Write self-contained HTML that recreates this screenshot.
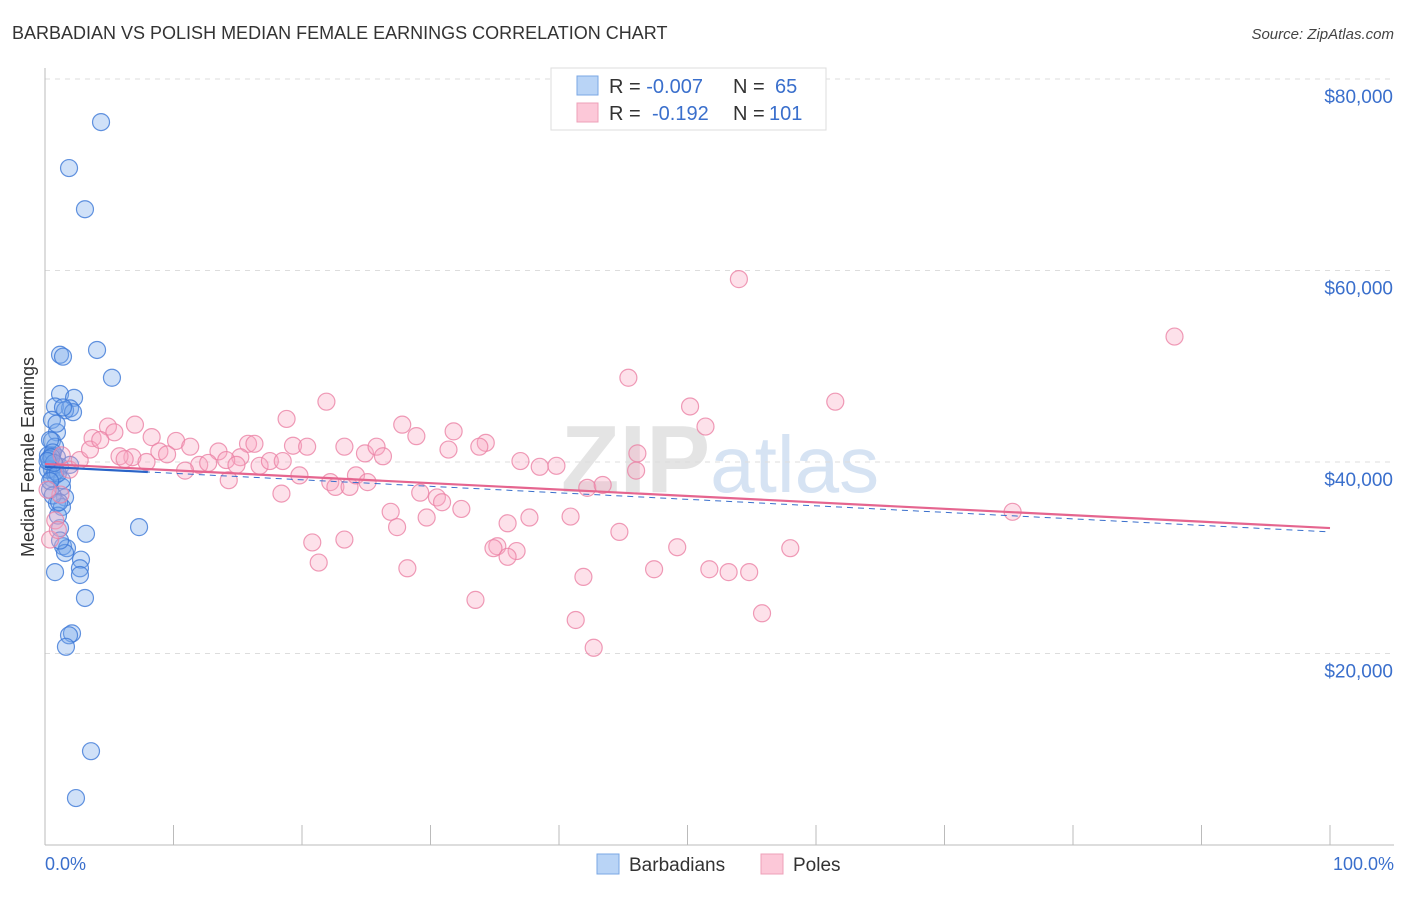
<!DOCTYPE html>
<html><head><meta charset="utf-8"><style>
body{margin:0;background:#fff;font-family:"Liberation Sans",sans-serif}
svg text{font-family:"Liberation Sans",sans-serif}
</style></head><body>
<svg id="chart" width="1406" height="892" viewBox="0 0 1406 892" xmlns="http://www.w3.org/2000/svg">
<text x="12" y="39" font-size="18" fill="#333">BARBADIAN VS POLISH MEDIAN FEMALE EARNINGS CORRELATION CHART</text>
<text x="1394" y="39" font-size="15" fill="#444" text-anchor="end" font-style="italic">Source: ZipAtlas.com</text>
<text x="720" y="492" font-size="96" fill="#e4e4e4" text-anchor="middle" font-family="Liberation Serif" font-weight="bold">ZIP<tspan fill="#d6e3f3" font-family="Liberation Sans" font-weight="normal" font-size="80">atlas</tspan></text>
<g id="grid"></g>
<g id="axes"></g>
<g id="pts"></g>
<g id="trends"></g>
<text transform="translate(34,457) rotate(-90)" font-size="18" fill="#333" text-anchor="middle">Median Female Earnings</text>
<text x="45" y="870" font-size="18" fill="#3a6fcc">0.0%</text>
<text x="1394" y="870" font-size="18" fill="#3a6fcc" text-anchor="end">100.0%</text>
<g>
<rect x="551" y="68" width="275" height="62" fill="#fff" stroke="#ddd"/>
<rect x="577" y="76" width="21" height="19" fill="#b9d4f6" stroke="#7aa7e4"/>
<rect x="577" y="103" width="21" height="19" fill="#fcc8d8" stroke="#eea0b8"/>
<text x="609" y="93" font-size="20" fill="#333">R = <tspan fill="#3a6fcc">-0.007</tspan><tspan x="733">N = </tspan><tspan x="775" fill="#3a6fcc">65</tspan></text>
<text x="609" y="120" font-size="20" fill="#333">R = <tspan x="652" fill="#3a6fcc">-0.192</tspan><tspan x="733">N = </tspan><tspan x="769" fill="#3a6fcc">101</tspan></text>
</g>
<g>
<rect x="597" y="854" width="22" height="20" fill="#b9d4f6" stroke="#7aa7e4"/>
<text x="629" y="871" font-size="19" fill="#333">Barbadians</text>
<rect x="761" y="854" width="22" height="20" fill="#fcc8d8" stroke="#eea0b8"/>
<text x="793" y="871" font-size="19" fill="#333">Poles</text>
</g>
</svg>
<script>
const yTicks=[20000,40000,60000,80000];
const yTickLabels=["$20,000","$40,000","$60,000","$80,000"];
const xTicks=[0,10,20,30,40,50,60,70,80,90,100];
const blueX=[4.36,1.87,3.11,4.05,1.17,1.40,5.21,1.17,2.26,0.78,1.95,1.56,2.18,0.54,0.93,0.54,0.78,0.54,0.93,0.39,0.78,1.17,0.54,1.95,0.78,0.54,1.32,1.56,0.93,1.32,7.32,3.19,1.17,1.40,1.71,1.56,2.80,2.72,2.72,0.78,3.11,2.10,1.87,1.63,3.58,2.41,0.39,0.23,0.23,1.32,0.39,1.01,1.17,0.6,0.3,0.8,1.0,0.5,0.7,0.2,1.4,0.9,0.4,0.6,1.1];
const blueY=[75500,70700,66400,51700,51200,51000,48800,47100,46700,45800,45600,45400,45200,44400,43100,42200,41600,40700,40500,40000,39700,39500,39200,39700,38600,38300,37400,36300,35700,35300,33200,32500,33100,31200,31000,30500,29800,28900,28200,28500,25800,22100,21900,20700,9800,4900,42300,40700,39200,38100,37100,34400,31800,41000,40300,39000,38800,40500,39900,40100,45700,44000,38000,36500,35800];
const pinkX=[54.0,87.9,45.4,61.5,50.2,21.9,18.8,51.4,27.8,4.9,7.0,5.4,3.7,8.3,10.2,28.9,31.8,34.3,33.8,31.4,37.0,19.3,20.4,15.8,16.3,23.3,24.9,25.8,26.3,11.3,8.9,6.8,5.8,7.9,13.5,15.2,14.1,12.0,10.9,12.7,14.9,16.7,17.5,18.5,19.8,22.2,22.6,23.7,24.2,25.1,14.3,18.4,29.2,30.5,30.9,32.4,38.5,39.8,46.1,46.0,42.2,43.4,26.9,27.4,29.7,36.0,37.7,40.9,44.7,20.8,23.3,21.3,28.2,35.2,34.9,36.7,36.0,33.5,41.9,47.4,49.2,51.7,53.2,54.8,58.0,41.3,42.7,55.8,75.3,1.2,0.8,0.4,1.9,2.7,3.5,4.3,1.3,0.2,1.0,6.2,9.5];
const pinkY=[59100,53100,48800,46300,45800,46300,44500,43700,43900,43700,43900,43100,42500,42600,42200,42700,43200,42000,41600,41300,40100,41700,41600,41900,41900,41600,40900,41600,40600,41600,41100,40500,40600,40000,41100,40500,40200,39700,39100,39900,39700,39600,40100,40100,38600,37900,37400,37400,38600,37900,38100,36700,36800,36300,35800,35100,39500,39600,40900,39100,37300,37600,34800,33200,34200,33600,34200,34300,32700,31600,31900,29500,28900,31200,31000,30700,30100,25600,28000,28800,31100,28800,28500,28500,31000,23500,20600,24200,34800,36600,33900,31900,39200,40200,41300,42300,40700,37100,32900,40300,40800];
const pinkTrend=[39800,33100];
const blueTrend=[39500,32700];
const blueSolidEnd=8;
const X0=45,X1=1330,Y0=845,YS=766/80000;
const sx=p=>X0+(X1-X0)*p/100, sy=v=>Y0-v*YS;
const NS="http://www.w3.org/2000/svg";
function mk(parent,tag,attrs){const e=document.createElementNS(NS,tag);for(const k in attrs)e.setAttribute(k,attrs[k]);document.getElementById(parent).appendChild(e);return e;}
yTicks.forEach((t,i)=>{
 let l=mk('grid','line',{x1:X0,x2:1394,y1:sy(t),y2:sy(t),stroke:'#ddd','stroke-dasharray':'5,5'});
 
 
 let tx=mk('grid','text',{x:1393,y:sy(t)+24,'font-size':19,fill:'#3a6fcc','text-anchor':'end'});
 tx.textContent=yTickLabels[i];
 
 
});
let ax=mk('axes','line',{x1:X0,x2:1394,y1:Y0,y2:Y0,stroke:'#bbb'});


let ay=mk('axes','line',{x1:X0,x2:X0,y1:68,y2:Y0,stroke:'#bbb'});


xTicks.forEach(t=>{
 let l=mk('axes','line',{x1:sx(t),x2:sx(t),y1:Y0-20,y2:Y0,stroke:'#bbb'});
 
 
});
blueX.forEach((p,i)=>{
 let c=mk('pts','circle',{cx:sx(p),cy:sy(blueY[i]),r:8.5,fill:'rgba(120,170,235,0.35)',stroke:'rgba(60,120,215,0.8)','stroke-width':1.2});
 
 
});
pinkX.forEach((p,i)=>{
 let c=mk('pts','circle',{cx:sx(p),cy:sy(pinkY[i]),r:8.5,fill:'rgba(248,170,195,0.35)',stroke:'rgba(235,130,165,0.8)','stroke-width':1.2});
 
 
});
const by=p=>blueTrend[0]+(blueTrend[1]-blueTrend[0])*p/100;
let bd=mk('trends','line',{x1:sx(0),y1:sy(by(0)),x2:sx(100),y2:sy(by(100)),stroke:'#3a6fcc','stroke-width':1,'stroke-dasharray':'6,5'});


let pt=mk('trends','line',{x1:sx(0),y1:sy(pinkTrend[0]),x2:sx(100),y2:sy(pinkTrend[1]),stroke:'#e5658f','stroke-width':2.2});


let bs=mk('trends','line',{x1:sx(0),y1:sy(by(0)),x2:sx(blueSolidEnd),y2:sy(by(blueSolidEnd)),stroke:'#2a64c8','stroke-width':2.2});


</script>
</body></html>
